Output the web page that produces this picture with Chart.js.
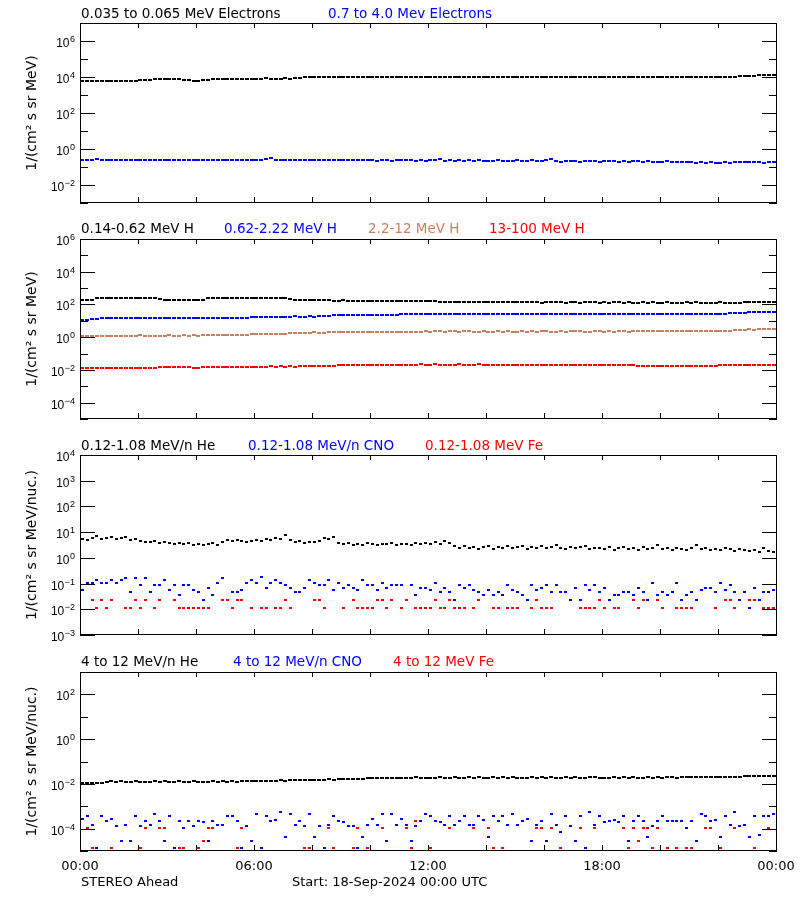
<!DOCTYPE html>
<html><head><meta charset="utf-8">
<script src="https://cdn.jsdelivr.net/npm/chart.js@4.4.1/dist/chart.umd.min.js"></script>
<style>
html,body{margin:0;padding:0;background:#fff;}
body{width:800px;height:900px;position:relative;overflow:hidden;}
canvas{position:absolute;left:0;}
</style></head><body>
<canvas id="c1" width="800" height="215" style="top:0px"></canvas>
<canvas id="c2" width="800" height="216" style="top:215px"></canvas>
<canvas id="c3" width="800" height="216" style="top:431px"></canvas>
<canvas id="c4" width="800" height="253" style="top:647px"></canvas>
<script>
// ---------- DATA (10-minute samples, 144 per series, 0 = no counts) ----------
const sampleCount = 144;
const sampleStepMin = 10;
const times = Array.from({length: sampleCount}, (_, i) => i * sampleStepMin + sampleStepMin / 2);

const xTickMinutes = [0,120,240,360,480,600,720,840,960,1080,1200,1320,1440];
const xLabelMinutes = [0,360,720,1080,1440];
const xLabels = ['00:00','06:00','12:00','18:00','00:00'];

// 0.035 to 0.065 MeV Electrons
const eLow = [
6300,6200,6100,6200,6000,6100,5900,6000,5900,6000,
5800,6000,6500,6800,7000,7400,7300,7500,7400,7300,
7400,7200,6800,6200,6100,6400,7200,7400,7300,7500,
7400,7300,7600,7500,7400,7700,8200,8100,8300,8000,
8200,8100,8400,8200,8800,9200,9500,9700,9600,9800,
9600,9700,9500,9600,9800,9700,9600,9700,9900,9800,
9600,9700,9800,9700,9900,9800,9900,10000,9900,10100,
10000,9900,10000,10200,10000,9900,10100,10000,10100,9900,
10000,10200,10100,10000,9900,10000,10100,10000,10200,10000,
9900,10100,10000,10000,10100,9900,10000,10200,10100,10000,
10000,9900,10100,10000,10200,10100,10000,9900,10000,10100,
10000,10200,10000,10100,9900,10000,10100,10200,10000,10100,
10000,9900,10000,10100,10200,10000,10100,10000,10200,10300,
10100,10200,10000,10100,10300,10200,11500,11800,12000,11900,
13000,13400,13600,13500];
// 0.7 to 4.0 MeV Electrons
const eHigh = [
0.25,0.24,0.25,0.27,0.24,0.23,0.25,0.24,0.24,0.25,
0.24,0.23,0.24,0.25,0.24,0.23,0.24,0.25,0.24,0.23,
0.24,0.25,0.24,0.23,0.24,0.25,0.23,0.24,0.25,0.24,
0.23,0.24,0.25,0.24,0.26,0.24,0.25,0.26,0.29,0.33,
0.26,0.24,0.25,0.24,0.25,0.24,0.23,0.25,0.24,0.26,
0.25,0.24,0.23,0.24,0.25,0.24,0.23,0.24,0.25,0.24,
0.23,0.22,0.24,0.23,0.22,0.24,0.23,0.25,0.23,0.22,
0.23,0.22,0.23,0.24,0.28,0.22,0.23,0.22,0.23,0.22,
0.23,0.22,0.24,0.22,0.21,0.22,0.23,0.22,0.21,0.22,
0.23,0.21,0.22,0.23,0.22,0.21,0.23,0.28,0.21,0.20,
0.21,0.22,0.21,0.20,0.21,0.22,0.21,0.20,0.21,0.22,
0.21,0.20,0.21,0.20,0.22,0.21,0.20,0.21,0.20,0.19,
0.20,0.21,0.20,0.19,0.20,0.19,0.18,0.17,0.18,0.17,
0.18,0.16,0.17,0.18,0.17,0.18,0.19,0.18,0.19,0.18,
0.19,0.17,0.19,0.20];

// 0.14-0.62 MeV H
const hLow = [
185,190,195,235,240,245,240,238,242,245,
240,238,236,240,238,235,230,200,195,192,
195,198,195,192,196,200,235,240,242,238,
240,245,240,238,242,240,236,238,240,235,
238,236,232,225,185,180,178,182,180,176,
175,178,174,172,175,170,172,174,170,168,
172,170,168,165,160,160,162,165,158,160,
162,158,155,152,150,148,146,150,148,145,
150,148,146,144,148,146,143,140,135,133,
136,134,132,135,133,131,134,132,135,133,
130,132,134,131,133,135,132,130,133,131,
134,132,130,133,131,129,132,130,133,131,
129,132,130,128,131,133,130,132,129,131,
130,128,132,130,129,131,130,132,134,133,
140,145,150,148];
// 0.62-2.22 MeV H
const hMid = [
12.0,11.8,12.2,12.5,
14.5,15.0,14.8,15.2,15.0,14.7,15.1,15.3,14.9,15.0,15.2,14.8,15.1,15.0,14.9,15.3,
15.1,14.8,15.0,15.2,15.0,14.9,15.1,15.3,15.0,14.8,15.2,15.1,15.0,15.3,15.5,
17.5,18.0,17.8,18.2,18.0,17.9,18.3,18.1,18.0,18.4,18.2,18.0,18.5,18.3,18.6,19.0,20.0,21.5,
22.5,23.0,23.2,22.8,23.5,23.1,23.3,23.6,23.2,23.8,24.0,23.7,24.2,24.5,
24.8,25.0,24.7,25.2,25.0,24.8,25.1,25.3,24.9,25.0,
25.2,24.8,25.1,25.0,24.9,25.3,25.1,24.8,25.0,25.2,
25.0,24.9,25.1,25.3,25.0,24.8,25.2,25.1,25.0,25.3,
24.9,25.0,25.2,24.8,25.1,25.0,24.9,25.3,25.1,24.8,
25.0,25.2,25.0,24.9,25.1,25.3,25.0,24.8,25.2,25.1,
25.0,25.3,25.5,25.2,25.6,25.8,25.5,26.0,26.2,26.5,
26.3,26.8,
27.0,27.5,27.2,28.0,27.8,28.5,30.0,31.5,32.0,33.0,32.5,33.5,34.0,33.0,33.5];
// 2.2-12 MeV H
const hHigh = [
1.22,1.24,1.23,1.25,1.22,1.24,1.26,1.23,1.25,1.24,
1.22,1.25,1.27,1.24,1.23,1.26,1.25,1.24,1.27,1.25,
1.26,1.28,1.25,1.27,1.26,1.28,1.30,1.27,1.29,1.28,
1.30,1.32,1.30,1.35,1.40,
1.55,1.60,1.58,1.62,1.60,1.63,1.61,1.65,1.70,
1.85,1.90,1.88,1.92,1.95,1.90,1.93,1.96,1.94,1.98,
2.00,1.97,2.02,2.00,1.98,2.03,2.05,2.02,2.06,2.08,
2.05,2.10,2.12,
2.15,2.20,2.18,2.22,2.25,2.20,2.24,2.28,2.22,2.30,
2.26,2.21,2.25,2.28,2.22,2.20,2.24,2.18,2.22,2.25,
2.20,2.23,2.19,2.22,2.26,2.21,2.24,2.20,2.23,2.27,
2.22,2.20,2.25,2.21,2.24,2.28,2.23,2.20,2.22,2.26,
2.24,2.21,2.25,2.22,2.28,2.24,2.21,2.26,2.23,2.27,
2.25,2.30,2.26,2.32,2.28,2.35,2.30,2.33,2.38,2.35,
2.40,2.37,2.42,2.45,2.40,2.48,2.52,2.55,
2.80,2.85,2.90,2.95,2.92,3.00,2.97,3.02,3.00];
// 13-100 MeV H
const hTop = [
0.0125,0.0122,0.0130,0.0128,0.0135,0.0140,0.0132,0.0128,0.0138,0.0130,
0.0126,0.0124,0.0133,0.0129,0.0135,
0.0140,0.0150,0.0145,0.0152,0.0148,0.0155,0.0150,0.0146,0.0138,0.0135,
0.0142,0.0148,0.0152,0.0150,0.0155,0.0149,0.0146,0.0153,0.0158,0.0151,
0.0156,0.0160,0.0154,0.0158,0.0162,0.0157,0.0163,0.0160,0.0165,0.0158,
0.0164,0.0168,0.0162,0.0170,0.0166,0.0172,0.0178,0.0182,
0.0190,0.0195,0.0200,0.0198,0.0203,0.0196,0.0201,0.0205,0.0199,0.0204,
0.0200,0.0208,0.0202,0.0206,0.0212,0.0205,0.0210,0.0215,0.0208,0.0212,
0.0218,0.0210,0.0214,0.0209,0.0212,0.0216,0.0211,0.0208,0.0213,0.0217,
0.0210,0.0214,0.0208,0.0212,0.0209,0.0213,0.0206,0.0210,0.0214,0.0208,
0.0211,0.0207,0.0212,0.0209,0.0205,0.0210,0.0213,0.0207,0.0211,0.0208,
0.0204,0.0209,0.0206,0.0210,0.0203,0.0207,0.0201,0.0205,
0.0198,0.0195,0.0192,0.0188,0.0185,0.0182,0.0178,0.0180,0.0176,0.0179,
0.0174,0.0177,0.0172,0.0176,0.0173,0.0178,0.0175,0.0171,0.0176,0.0179,
0.0183,0.0188,0.0192,0.0190,0.0196,0.0194,0.0200,0.0197,0.0203,0.0199,
0.0205,0.0201,0.0204];

// 0.12-1.08 MeV/n He
const heLow = [
5.5,5.0,6.0,6.8,5.6,
5.8,6.2,5.3,5.7,6.4,5.1,5.5,
4.6,4.2,4.0,4.4,3.9,4.1,3.8,
3.6,3.9,3.4,3.7,3.3,3.6,3.1,3.5,3.8,3.2,
4.2,4.8,4.4,5.1,4.6,4.0,4.5,
5.0,4.6,5.4,4.8,5.8,5.2,7.8,
4.8,4.2,4.5,3.9,4.3,4.0,4.6,
6.0,5.3,6.4,
3.8,3.4,3.9,3.2,3.6,3.3,3.7,3.5,3.1,3.6,3.4,3.8,3.2,3.5,
3.6,3.3,3.8,3.4,3.9,3.5,4.0,3.6,4.6,3.7,
2.8,2.5,3.0,2.4,2.7,2.2,2.6,2.9,2.3,2.6,
2.5,2.8,2.4,2.6,2.9,2.3,2.7,2.5,2.8,2.4,2.6,3.3,2.5,2.3,2.7,2.4,2.6,2.8,2.2,2.5,2.4,
2.3,2.6,2.1,2.5,2.7,2.2,2.4,2.0,2.6,2.3,2.5,3.2,2.2,2.4,2.1,2.5,2.3,2.0,2.4,3.3,2.2,
2.4,2.1,2.3,2.0,2.5,2.2,1.9,2.3,2.1,1.8,2.0,1.7,2.5,1.9,1.7];
// 0.12-1.08 MeV/n CNO
const cnoLow = [
0.058,0.11,0.11,0.135,0.11,0.11,0.135,0.11,0.135,0.16,
0.047,0.16,0.09,0.16,0.047,0.09,0.09,0.135,0.058,0.09,
0.035,0.09,0.09,0.058,0.047,0.023,0.065,0.035,0.11,0.16,
0,0.047,0.047,0.058,0.11,0.135,0.11,0.175,0.065,0.11,
0.135,0.11,0.09,0.065,0.047,0.047,0.065,0.135,0.11,0.09,
0.09,0.135,0.058,0.11,0.065,0.09,0.065,0.058,0.135,0.09,
0.09,0.058,0.11,0.065,0.09,0.09,0.09,0,0.09,0.035,
0.065,0.065,0.058,0.11,0.047,0.065,0.047,0.023,0.09,0.065,
0.09,0.058,0.047,0.035,0.058,0.035,0.047,0.035,0.09,0.058,
0.047,0.035,0.023,0.09,0.058,0.065,0.09,0.047,0.09,0.047,
0.047,0.023,0.065,0.023,0.09,0.058,0.09,0.047,0.065,0.023,
0.035,0.035,0.047,0.047,0.035,0.065,0.047,0.023,0.11,0.035,
0.047,0.035,0.047,0.11,0.023,0.035,0.047,0.023,0.058,0.065,
0.065,0.047,0.11,0.058,0.09,0.047,0.023,0.047,0.0112,0.065,
0.023,0.047,0.047,0.058];
// 0.12-1.08 MeV Fe
const feLow = [
0,0,0.023,0.0115,0.023,0.0115,0.023,0,0,0.0115,
0.0115,0.023,0.0115,0.023,0,0.0115,0.023,0,0,0.023,
0.0115,0.0115,0.0115,0.0115,0.0115,0.0115,0.0115,0,0,0.023,
0.023,0.0115,0.023,0.023,0,0.0115,0,0.0115,0.0115,0,
0.0115,0.0115,0.023,0.0115,0,0,0,0,0.023,0.023,
0.0115,0,0,0,0.0115,0,0.023,0.0115,0.0115,0.0115,
0.0115,0.023,0.023,0.0115,0.023,0,0.0115,0.023,0,0.0115,
0.0115,0.0115,0.0115,0.023,0.0115,0.0115,0.023,0.0115,0.0115,0.0115,
0,0.0115,0.023,0,0,0.0115,0.0115,0,0.0115,0.0115,
0.0115,0,0,0.0115,0.023,0.0115,0.0115,0.0115,0,0,
0,0,0,0.0115,0.0115,0.0115,0.0115,0.023,0.0115,0,
0.0115,0.0115,0,0,0.023,0.0115,0.023,0.023,0,0.023,
0.0115,0,0,0.0115,0.0115,0.0115,0.0115,0,0,0,
0,0.0115,0,0.023,0.023,0.0115,0,0,0.023,0.023,
0,0.0115,0.0115,0.0115];

// 4 to 12 MeV/n He
const heHigh = [
0.0105,0.0108,0.0104,0.0110,0.0112,
0.0122,0.0128,0.0125,0.0130,0.0123,0.0127,0.0132,0.0124,0.0126,0.0121,
0.0129,0.0125,0.0128,0.0123,0.0127,0.0130,0.0124,0.0126,0.0129,0.0125,
0.0122,0.0127,0.0131,0.0126,0.0128,0.0124,0.0130,0.0127,0.0133,0.0129,
0.0135,0.0131,0.0137,0.0134,0.0140,0.0136,0.0142,0.0139,0.0145,0.0142,
0.0148,
0.0150,0.0152,0.0148,0.0155,0.0153,0.0158,0.0155,0.0160,0.0162,0.0158,
0.0165,0.0168,0.0172,0.0176,0.0180,0.0178,0.0182,
0.0185,0.0190,0.0188,0.0192,0.0186,0.0190,0.0194,0.0189,0.0192,0.0187,
0.0191,0.0195,0.0190,0.0188,0.0193,0.0189,0.0192,0.0196,0.0190,0.0193,
0.0188,0.0192,0.0195,0.0189,0.0193,0.0190,0.0194,0.0191,0.0188,0.0192,
0.0196,0.0190,0.0193,0.0189,0.0195,0.0191,0.0188,0.0193,0.0190,0.0194,
0.0191,0.0189,0.0193,0.0196,0.0190,0.0192,0.0188,0.0194,0.0191,0.0195,
0.0190,0.0193,0.0189,0.0192,0.0196,0.0191,0.0194,0.0190,0.0193,0.0197,
0.0192,0.0195,0.0199,0.0194,0.0198,0.0202,0.0197,0.0201,0.0205,0.0200,
0.0204,0.0208,0.0212,0.0207,0.0215,0.0220,0.0218,0.0225,0.0222,0.0228,
0.0224];
// 4 to 12 MeV/n CNO
const cnoHigh = [
2.7e-4,3.5e-4,1.5e-4,1.3e-5,3.5e-4,2.3e-4,2.7e-4,1.26e-4,2.75e-5,1.5e-4,
2.75e-5,3.5e-4,1.26e-4,2.3e-4,1.5e-4,4.6e-4,2.3e-4,2.75e-5,3.5e-4,1.3e-5,
2.3e-4,1.1e-4,2.3e-4,1.26e-4,2.3e-4,1.9e-4,2.75e-5,2.3e-4,1.4e-4,1.5e-4,
3.5e-4,3.5e-4,2.3e-4,1.3e-5,1.26e-4,2.75e-5,4.6e-4,1.3e-5,3.5e-4,2.3e-4,
2.5e-4,5.7e-4,4.3e-5,4.6e-4,1.5e-4,2.3e-4,1.26e-4,4.6e-4,4.3e-5,1.26e-4,
1.3e-5,1.5e-4,3.5e-4,2.3e-4,1.9e-4,1.26e-4,1.26e-4,1.3e-5,4.3e-5,1.5e-4,
2.7e-4,1.4e-4,4.6e-4,2.75e-5,4.6e-4,1.5e-4,2.7e-4,1.5e-4,2.75e-5,1.26e-4,
2.3e-4,4.6e-4,3.5e-4,2.3e-4,1.9e-4,1.4e-4,3.5e-4,1.5e-4,2.3e-4,3.5e-4,
1.4e-4,1.5e-4,3.5e-4,2.5e-4,4.3e-5,3.5e-4,2.3e-4,3.5e-4,1.4e-4,4.6e-4,
1.4e-4,2.3e-4,2.7e-4,2.75e-5,1.5e-4,2.3e-4,2.75e-5,4.6e-4,1.4e-4,6.9e-5,
3.5e-4,1.26e-4,2.75e-5,3.5e-4,1.3e-5,5.7e-4,1.5e-4,3.5e-4,1.9e-4,2.3e-4,
2.5e-4,1.9e-4,3.5e-4,2.75e-5,2.3e-4,3.5e-4,2.3e-4,4.3e-5,1.26e-4,2.3e-4,
3.5e-4,2.3e-4,2.3e-4,2.3e-4,2.3e-4,1.1e-4,2.3e-4,2.75e-5,4.6e-4,3.5e-4,
2.3e-4,2.5e-4,4.3e-5,3.5e-4,1.5e-4,5.7e-4,1.26e-4,1.4e-4,4.3e-5,3.5e-4,
5.4e-5,3.5e-4,3.5e-4,4.6e-4];
// 4 to 12 MeV Fe
const feHigh = [
0,1.1e-4,1.3e-5,0,0,0,1.3e-5,0,0,0,
0,0,1.3e-5,1.1e-4,0,0,1.1e-4,1.1e-4,0,0,
1.3e-5,1.3e-5,0,0,1.3e-5,2.75e-5,1.1e-4,1.1e-4,0,0,
0,0,1.3e-5,1.1e-4,0,0,0,0,0,0,
0,0,0,0,0,0,1.3e-5,1.3e-5,0,0,
0,1.1e-4,1.3e-5,0,0,0,1.3e-5,1.1e-4,0,1.3e-5,
0,0,1.1e-4,0,0,0,0,1.1e-4,1.3e-5,2.3e-4,
0,0,1.3e-5,0,0,0,1.1e-4,0,0,0,
0,1.1e-4,0,0,1.1e-4,1.3e-5,0,1.3e-5,0,0,
0,0,0,2.75e-5,1.1e-4,1.1e-4,0,1.1e-4,0,1.3e-5,
0,0,0,1.1e-4,0,0,1.1e-4,0,0,0,
0,0,1.1e-4,1.3e-5,1.1e-4,2.75e-5,1.1e-4,1.1e-4,1.3e-5,1.1e-4,
0,1.3e-5,0,1.3e-5,0,1.3e-5,1.3e-5,0,0,1.1e-4,
1.1e-4,0,1.3e-5,0,0,1.1e-4,0,0,0,1.3e-5,
0,0,1.1e-4,0];

// ---------- LAYOUT / STYLE ----------
const BLUE = '#0000ff', RED = '#ff0000', TAN = '#c8805f', BLACK = '#000000';
const panels = [
  {id:'c1', top:0, padTop:23, padBottom:12, yMin:1e-3, yMax:1e7, expMin:-3, expMax:7,
   labelExp:[6,4,2,0,-2], yTitle:'1/(cm\u00b2 s sr MeV)', titleY:18,
   titles:[['0.035 to 0.065 MeV Electrons',BLACK,81],['0.7 to 4.0 Mev Electrons',BLUE,328]],
   series:[[eLow,BLACK,4,2],[eHigh,BLUE,4,2]]},
  {id:'c2', top:215, padTop:24, padBottom:12, yMin:1e-5, yMax:1e6, expMin:-5, expMax:6,
   labelExp:[6,4,2,0,-2,-4], yTitle:'1/(cm\u00b2 s sr MeV)', titleY:233,
   titles:[['0.14-0.62 MeV H',BLACK,81],['0.62-2.22 MeV H',BLUE,224],['2.2-12 MeV H',TAN,368],['13-100 MeV H',RED,489]],
   series:[[hLow,BLACK,4,2],[hMid,BLUE,4,2],[hHigh,TAN,4,2],[hTop,RED,4,2]]},
  {id:'c3', top:431, padTop:24, padBottom:12, yMin:1e-3, yMax:1e4, expMin:-3, expMax:4,
   labelExp:[4,3,2,1,0,-1,-2,-3], yTitle:'1/(cm\u00b2 s sr MeV/nuc.)', titleY:450,
   titles:[['0.12-1.08 MeV/n He',BLACK,81],['0.12-1.08 MeV/n CNO',BLUE,248],['0.12-1.08 MeV Fe',RED,425]],
   series:[[heLow,BLACK,3,2],[cnoLow,BLUE,3,2],[feLow,RED,3,2]]},
  {id:'c4', top:647, padTop:25, padBottom:49, yMin:1e-5, yMax:1e3, expMin:-5, expMax:3,
   labelExp:[2,0,-2,-4], yTitle:'1/(cm\u00b2 s sr MeV/nuc.)', titleY:666, footer:true,
   titles:[['4 to 12 MeV/n He',BLACK,81],['4 to 12 MeV/n CNO',BLUE,233],['4 to 12 MeV Fe',RED,393]],
   series:[[heHigh,BLACK,4,2],[cnoHigh,BLUE,3,2],[feHigh,RED,3,2]]}
];
const footerTexts = [['STEREO Ahead',81],['Start: 18-Sep-2024 00:00 UTC',292]];
const footerY = 886, xLabelY = 870;

function marker(color, w, h) {
  const c = document.createElement('canvas');
  c.width = w; c.height = h;
  const g = c.getContext('2d');
  g.fillStyle = color; g.fillRect(0, 0, w, h);
  return c;
}

function drawPow(ctx, exp, xRight, y) {
  const e = exp < 0 ? '\u2212' + (-exp) : String(exp);
  ctx.font = '9px "Liberation Sans"';
  const we = ctx.measureText(e).width;
  ctx.font = '12px "Liberation Sans"';
  const wb = ctx.measureText('10').width;
  ctx.fillText('10', xRight - we - wb - 0.5, y + 5.5);
  ctx.font = '9px "Liberation Sans"';
  ctx.fillText(e, xRight - we, y + 0.5);
}

const idlFrame = {
  id: 'idlFrame',
  afterDraw(chart) {
    const p = chart.options.plugins.idlFrame.panel;
    const {ctx, chartArea: a} = chart;
    const xs = chart.scales.x, ys = chart.scales.y;
    const L = Math.round(a.left), R = Math.round(a.right), T = Math.round(a.top), B = Math.round(a.bottom);
    ctx.save();
    ctx.strokeStyle = '#000'; ctx.fillStyle = '#000'; ctx.lineWidth = 1;
    ctx.beginPath();
    ctx.rect(L + 0.5, T + 0.5, R - L, B - T - 1);
    for (let d = p.expMin; d <= p.expMax; d++) {
      const py = Math.round(ys.getPixelForValue(Math.pow(10, d))) + 0.5;
      const len = p.labelExp.includes(d) ? 15 : 8;
      ctx.moveTo(L, py); ctx.lineTo(L + len, py);
      ctx.moveTo(R + 1, py); ctx.lineTo(R + 1 - len, py);
    }
    xTickMinutes.forEach(t => {
      const px = Math.round(xs.getPixelForValue(t)) + 0.5;
      ctx.moveTo(px, T); ctx.lineTo(px, T + 5);
      ctx.moveTo(px, B); ctx.lineTo(px, B - 6);
    });
    ctx.stroke();
    // y tick labels
    ctx.textAlign = 'left'; ctx.textBaseline = 'alphabetic';
    p.labelExp.forEach(d => drawPow(ctx, d, 75, Math.round(ys.getPixelForValue(Math.pow(10, d)))));
    // series titles
    ctx.font = '13.5px "DejaVu Sans"';
    p.titles.forEach(([txt, col, x]) => { ctx.fillStyle = col; ctx.fillText(txt, x, p.titleY - p.top); });
    if (p.footer) {
      ctx.fillStyle = '#000';
      ctx.font = '13px "DejaVu Sans"';
      ctx.textAlign = 'center';
      xLabelMinutes.forEach((t, i) => ctx.fillText(xLabels[i], xs.getPixelForValue(t), xLabelY - p.top));
      ctx.textAlign = 'left';
      footerTexts.forEach(([txt, x]) => ctx.fillText(txt, x, footerY - p.top));
    }
    ctx.restore();
  }
};

panels.forEach(p => {
  const datasets = p.series.map(([arr, col, w, h]) => ({
    data: arr.map((v, i) => ({x: times[i], y: v > 0 ? v : null})),
    pointStyle: marker(col, w, h),
    pointRadius: 2,
    showLine: false,
    backgroundColor: col,
    borderColor: col
  }));
  new Chart(document.getElementById(p.id), {
    type: 'scatter',
    data: {datasets},
    plugins: [idlFrame],
    options: {
      responsive: false, animation: false, events: [],
      layout: {padding: {left: 0, right: 24, top: p.padTop, bottom: p.padBottom}},
      scales: {
        x: {type: 'linear', min: 0, max: 1440, display: false},
        y: {type: 'logarithmic', min: p.yMin, max: p.yMax, position: 'left',
            grid: {display: false}, border: {display: false}, ticks: {display: false},
            title: {display: true, text: p.yTitle, color: '#000',
                    font: {family: 'DejaVu Sans', size: 14}, padding: {top: 24, bottom: 0}},
            afterFit(s) { s.width = 80; }}
      },
      plugins: {legend: {display: false}, tooltip: {enabled: false}, idlFrame: {panel: p}}
    }
  });
});
</script>
</body></html>
